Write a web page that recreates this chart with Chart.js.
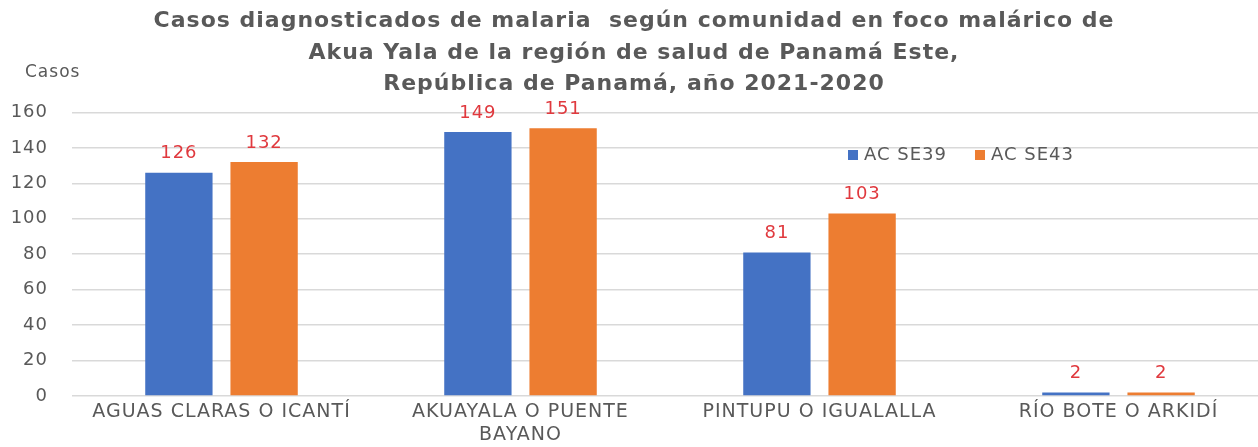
<!DOCTYPE html>
<html>
<head>
<meta charset="utf-8">
<script src="https://cdn.jsdelivr.net/npm/chart.js@4"></script>
<style>
  html, body { margin: 0; padding: 0; background: #fff; overflow: hidden; }
  #wrap { width: 1272px; height: 455px; }
</style>
</head>
<body>
<div id="wrap"><canvas id="malariaChart" width="1272" height="455"></canvas></div>
<script>
const categories = ['AGUAS CLARAS O ICANTÍ', ['AKUAYALA O PUENTE', 'BAYANO'], 'PINTUPU O IGUALALLA', 'RÍO BOTE O ARKIDÍ'];
const seriesNames = ['AC SE39', 'AC SE43'];
const se39 = [126, 149, 81, 2];
const se43 = [132, 151, 103, 2];
const yMin = 0, yMax = 160, yStep = 20;
const titleLines = [
    'Casos diagnosticados de malaria  según comunidad en foco malárico de',
    'Akua Yala de la región de salud de Panamá Este,',
    'República de Panamá, año 2021-2020'
];
const yAxisName = 'Casos';

const FONT = "'DejaVu Sans', sans-serif";
const GREY = '#595959';

// the original text is a little spread out
const spacing = {
    id: 'spacing',
    beforeUpdate(chart) { chart.ctx.letterSpacing = '1px'; },
    beforeDraw(chart) { chart.ctx.letterSpacing = '1px'; }
};

// value labels above each bar
const valueLabels = {
    id: 'valueLabels',
    afterDatasetsDraw(chart) {
        const c = chart.ctx;
        c.save();
        c.font = '18px ' + FONT;
        c.fillStyle = '#E0393E';
        c.textAlign = 'center';
        c.textBaseline = 'middle';
        chart.data.datasets.forEach((ds, i) => {
            chart.getDatasetMeta(i).data.forEach((bar, j) => {
                c.fillText(ds.data[j], bar.x, bar.y - 19);
            });
        });
        c.restore();
    }
};

// legend and axis name drawn in place
const extras = {
    id: 'extras',
    afterDraw(chart) {
        const c = chart.ctx;
        c.save();
        c.font = '17px ' + FONT;
        c.fillStyle = GREY;
        c.textBaseline = 'middle';
        c.textAlign = 'left';
        c.fillText(yAxisName, 25, 73);

        c.font = '18px ' + FONT;
        let x = 848;
        const y = 155;
        chart.data.datasets.forEach(ds => {
            c.fillStyle = ds.backgroundColor;
            c.fillRect(x, y - 5, 10, 10);
            c.fillStyle = GREY;
            c.fillText(ds.label, x + 16, y);
            x += 16 + c.measureText(ds.label).width + 28;
        });
        c.restore();
    }
};

new Chart(document.getElementById('malariaChart'), {
    type: 'bar',
    data: {
        labels: categories,
        datasets: [
            { label: seriesNames[0], data: se39, backgroundColor: '#4472C4' },
            { label: seriesNames[1], data: se43, backgroundColor: '#ED7D31' }
        ]
    },
    options: {
        responsive: false,
        animation: false,
        layout: { padding: { left: 0, right: 4, top: 0, bottom: 3 } },
        datasets: { bar: { categoryPercentage: 0.57, barPercentage: 0.79 } },
        plugins: {
            legend: { display: false },
            tooltip: { enabled: false },
            title: {
                display: true,
                text: titleLines,
                color: GREY,
                font: { family: FONT, size: 22, weight: 'bold', lineHeight: 1.43 },
                padding: { top: 6, bottom: 12 }
            }
        },
        scales: {
            x: {
                grid: { display: false, drawTicks: false },
                border: { display: false },
                ticks: {
                    color: GREY,
                    font: { family: FONT, size: 19, lineHeight: 1.21 },
                    maxRotation: 0,
                    padding: 5
                }
            },
            y: {
                min: yMin,
                max: yMax,
                border: { display: false },
                grid: { color: '#D9D9D9', drawTicks: false, lineWidth: 1.5 },
                ticks: {
                    stepSize: yStep,
                    color: GREY,
                    font: { family: FONT, size: 18 },
                    padding: 24
                },
                afterFit(scale) { scale.width = 72; }
            }
        }
    },
    plugins: [spacing, valueLabels, extras]
});
</script>
</body>
</html>
